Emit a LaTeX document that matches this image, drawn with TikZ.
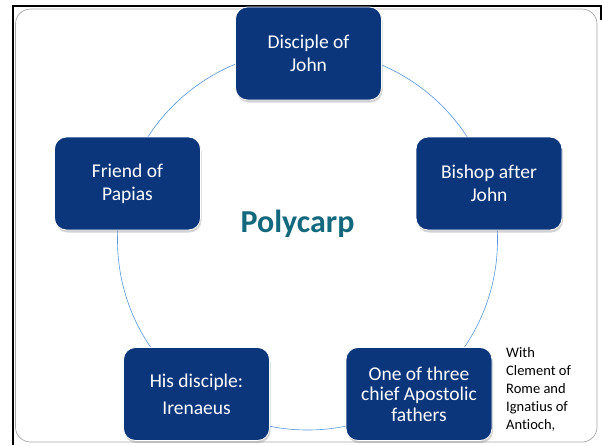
\documentclass[tikz,border=0pt]{standalone}
\usepackage{fontspec}
\setmainfont{Carlito}[Ligatures=NoCommon]
\usetikzlibrary{shadows}
\definecolor{boxblue}{RGB}{12,54,124}
\definecolor{ringblue}{RGB}{86,150,220}
\definecolor{titleteal}{RGB}{18,104,124}
\tikzset{
  fact/.style={rectangle, rounded corners=12pt, fill=boxblue, draw=white, line width=0.8pt,
    minimum width=146pt, minimum height=93pt, inner sep=2pt, align=center, text=white,
    font=\fontsize{19.5}{23}\selectfont,
    drop shadow={opacity=0.35, shadow xshift=1pt, shadow yshift=-2.5pt}},
  ring/.style={draw=ringblue, line width=0.6pt},
}
\begin{document}
\begin{tikzpicture}[x=1pt, y=-1pt]
  \useasboundingbox (0,0) rectangle (602,445);
  % frame
  \draw[line width=2pt] (13,445) -- (13,5.5) -- (602,5.5);
  \draw[line width=2pt] (601,5.5) -- (601,20);
  \draw[gray!70, line width=0.7pt, rounded corners=15pt] (15.5,9) rectangle (597,442);
  % ring behind the boxes
  \draw[ring] (307.5,240) circle [radius=190];
  \node[fact] (john) at (308.5,53.5) {Disciple of\\John};
  \node[fact] (bishop) at (489,183.5) {Bishop after\\John};
  \node[fact, font=\fontsize{19.5}{20.5}\selectfont] (fathers) at (419,394) {One of three\\chief Apostolic\\fathers};
  \node[fact] (irenaeus) at (196.5,394) {His disciple:\\[4pt]Irenaeus};
  \node[fact] (papias) at (127.5,183.5) {Friend of\\Papias};
  \node[font=\fontsize{32}{38}\selectfont\bfseries, text=titleteal] (polycarp) at (297.5,224) {Polycarp};
  \node[anchor=north west, align=left, inner sep=0pt, font=\fontsize{14.5}{18}\selectfont]
    (note) at (506,347) {With\\Clement of\\Rome and\\Ignatius of\\Antioch,};
\end{tikzpicture}
\end{document}
